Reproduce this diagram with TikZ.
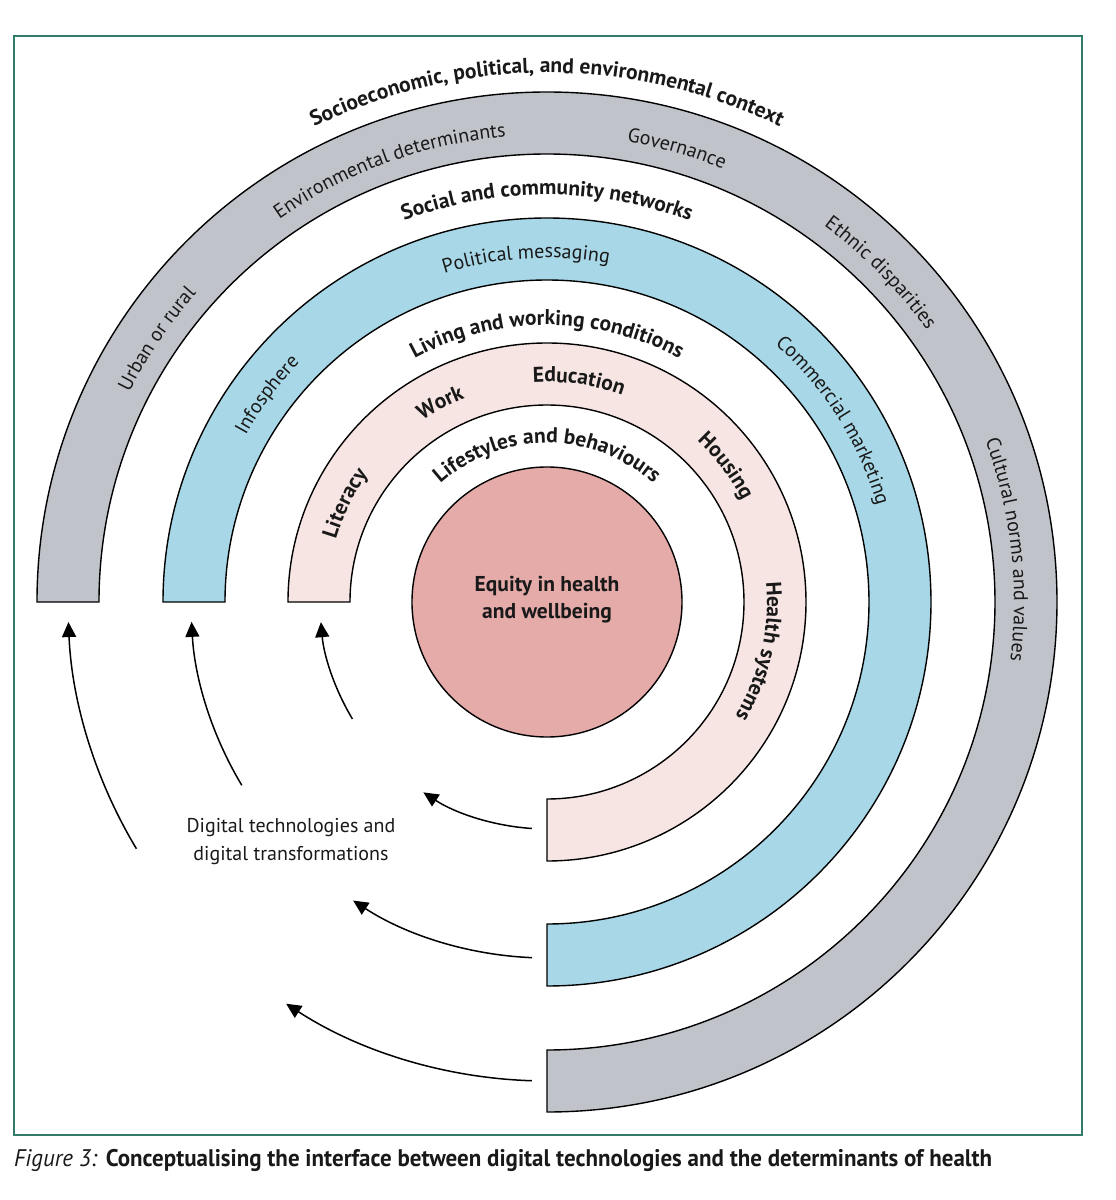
\documentclass[tikz,border=0pt]{standalone}
\usepackage{fontspec}
\usepackage{graphicx}
\setmainfont{PT Sans}
\usetikzlibrary{decorations.text,arrows.meta}

\definecolor{ringgray}{RGB}{192,196,202}
\definecolor{ringblue}{RGB}{168,216,232}
\definecolor{ringpink}{RGB}{246,229,227}
\definecolor{corepink}{RGB}{228,171,169}
\definecolor{framegreen}{RGB}{50,125,105}
\definecolor{inktext}{RGB}{25,25,25}

% fonts for the ring labels
\newcommand\lblfont{\fontsize{20}{24}\selectfont}
\newcommand\ttlfont{\fontsize{21.5}{26}\selectfont\bfseries}

% text set along a clockwise arc: baseline radius, centre angle, font, words
\newcommand\ringtext[4]{%
  \path[decorate,decoration={text along path,text align=center,
      text color=inktext,text={|#3|#4}}]
    ({#2+75}:#1pt) arc[start angle={#2+75}, end angle={#2-75}, radius=#1pt];}

% three-quarter band from the left end, over the top, to the bottom end
\newcommand\band[3]{%
  \draw[bandline,fill=#3] (180:#2pt) arc[start angle=180, end angle=-90, radius=#2pt]
    -- (-90:#1pt) arc[start angle=-90, end angle=180, radius=#1pt] -- cycle;}

\begin{document}
\begin{tikzpicture}[x=1pt,y=1pt,
  bandline/.style={draw=black,line width=1.4pt,line join=miter},
  flow/.style={line width=1.5pt,-{Triangle[length=15pt,width=14pt]}},
  framebox/.style={draw=framegreen,line width=1.5pt}]
\useasboundingbox (-547,-598) rectangle (569,602);

% outer frame
\draw[framebox] (-533,566) rectangle (535,-533);

% the three bands and the core
\band{448}{510}{ringgray}
\band{322}{384}{ringblue}
\band{197}{259}{ringpink}
\node[circle,draw=black,line width=1.4pt,fill=corepink,minimum size=270pt,inner sep=0] (core) at (0,0) {};
\node[font=\bfseries\fontsize{21.5}{27}\selectfont,align=center,text=inktext] (corelabel) at (0,2.5)
  {Equity in health\\and wellbeing};

% outermost title and grey band
\ringtext{529}{90}{\ttlfont}{Socioeconomic, political, and environmental context}
\ringtext{467}{146}{\lblfont}{Urban or rural}
\ringtext{467}{110}{\lblfont}{Environmental determinants}
\ringtext{467}{74}{\lblfont}{Governance}
\ringtext{467}{44.6}{\lblfont}{Ethnic disparities}
\ringtext{467}{6.5}{\lblfont}{Cultural norms and values}

% social title and blue band
\ringtext{407}{90}{\ttlfont}{Social and community networks}
\ringtext{344}{143.5}{\lblfont}{Infosphere}
\ringtext{344}{93.5}{\lblfont}{Political messaging}
\ringtext{344}{32.4}{\lblfont}{Commercial marketing}

% living title and pink band
\ringtext{277}{90}{\ttlfont}{Living and working conditions}
\ringtext{220}{154}{\ttlfont}{Literacy}
\ringtext{220}{118.2}{\ttlfont}{Work}
\ringtext{220}{81.8}{\ttlfont}{Education}
\ringtext{220}{37.2}{\ttlfont}{Housing}
\ringtext{220}{-13}{\ttlfont}{Health systems}

% innermost title
\ringtext{159}{90}{\ttlfont}{Lifestyles and behaviours}

% digital transformations label
\node[align=center,font=\fontsize{20}{28}\selectfont,text=inktext] (digital) at (-256,-240)
  {Digital technologies and\\digital transformations};

% arrow ends on the mid-line of each band
\coordinate (pinkA) at (266.2:227pt);
\coordinate (pinkB) at (211:227pt);
\coordinate (blueA) at (267.6:356pt);
\coordinate (blueB) at (211:356pt);
\coordinate (grayA) at (268.2:479pt);
\coordinate (grayB) at (211:479pt);

\draw[flow] (pinkA) arc[start angle=266.2, end angle=237, radius=227pt];
\draw[flow] (pinkB) arc[start angle=211, end angle=185.1, radius=227pt];
\draw[flow] (blueA) arc[start angle=267.6, end angle=237, radius=356pt];
\draw[flow] (blueB) arc[start angle=211, end angle=183.2, radius=356pt];
\draw[flow] (grayA) arc[start angle=268.2, end angle=237, radius=479pt];
\draw[flow] (grayB) arc[start angle=211, end angle=182.4, radius=479pt];

% caption, set condensed to the width of the figure
\node[anchor=base west,inner sep=0,text=inktext] (caption) at (-533,-564)
  {\resizebox{978pt}{\height}{\fontsize{24}{28}\selectfont\textit{Figure 3:} \textbf{Conceptualising the interface between digital technologies and the determinants of health}}};
\end{tikzpicture}
\end{document}
